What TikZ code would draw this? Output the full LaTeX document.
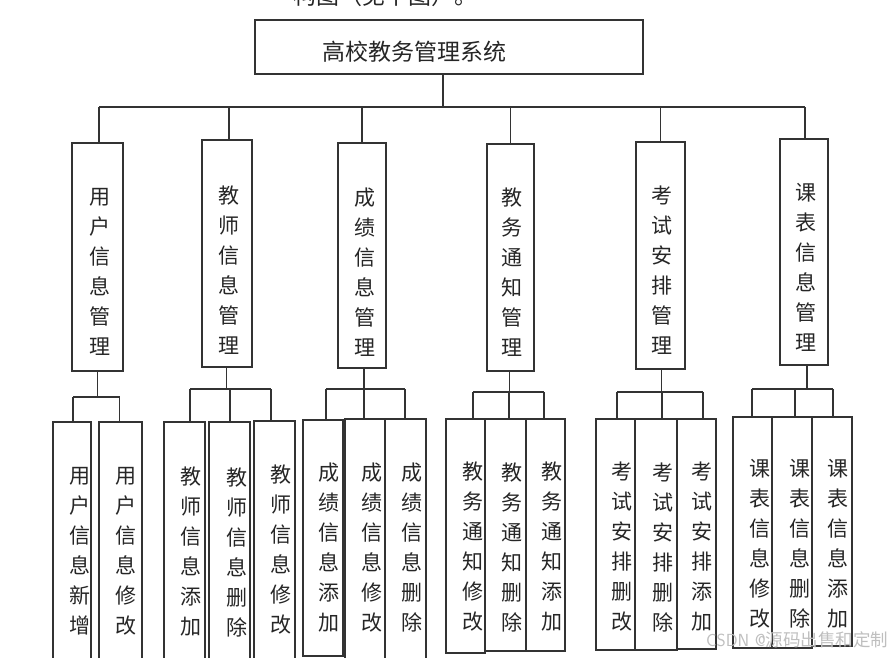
\documentclass[tikz,border=0pt]{standalone}
\usepackage{fontspec}
\newfontfamily\cjk{Noto Sans CJK SC}
\usetikzlibrary{fit}
\tikzset{
  box/.style={draw=black!80, line width=1.1pt, inner sep=0pt, rectangle},
  conn/.style={draw=black!80, line width=1.1pt},
  vt/.style={align=center, inner sep=0pt, font=\cjk\fontsize{21}{30}\selectfont, text=black!85},
  ttl/.style={inner sep=0pt, font=\cjk\fontsize{23}{26}\selectfont, text=black!85},
  wm/.style={inner sep=0pt, font=\fontsize{17.5}{19}\selectfont\sffamily, text=black!25}
}
\begin{document}
\begin{tikzpicture}[x=1pt,y=-1pt]
\clip (0,0) rectangle (892,657);
\fill[white] (0,0) rectangle (892,657);

% cut-off caption at the top
\node[ttl] (cap) at (385,-4) {构图（见下图）。};

% root
\node[box, fit={(255,20) (643,74)}] (root) {};
\node[ttl] (roottxt) at (414,52) {高校教务管理系统};

% level 2
\node[box, fit={(72,143) (123,371)}] (u) {};
\node[box, fit={(202,140) (252,367)}] (t) {};
\node[box, fit={(338,143) (386,368)}] (g) {};
\node[box, fit={(487,144) (534,371)}] (n) {};
\node[box, fit={(636,142) (685,369)}] (e) {};
\node[box, fit={(780,139) (828,365)}] (c) {};

\node[vt] (ut) at (100,272) {用\\户\\信\\息\\管\\理};
\node[vt] (tt) at (229,270) {教\\师\\信\\息\\管\\理};
\node[vt] (gt) at (365,272) {成\\绩\\信\\息\\管\\理};
\node[vt] (nt) at (512,272) {教\\务\\通\\知\\管\\理};
\node[vt] (et) at (662,270) {考\\试\\安\\排\\管\\理};
\node[vt] (ct) at (806,267) {课\\表\\信\\息\\管\\理};

% level 3
\node[box, fit={(53,422) (91,662)}] (u1) {};
\node[box, fit={(99,422) (142,662)}] (u2) {};
\node[box, fit={(164,422) (205,662)}] (t1) {};
\node[box, fit={(209,422) (250,662)}] (t2) {};
\node[box, fit={(254,421) (295,662)}] (t3) {};
\node[box, fit={(303,420) (343,656)}] (g1) {};
\node[box, fit={(345,419) (385,662)}] (g2) {};
\node[box, fit={(385,419) (426,662)}] (g3) {};
\node[box, fit={(446,419) (485,653)}] (n1) {};
\node[box, fit={(485,419) (526,651)}] (n2) {};
\node[box, fit={(526,419) (565,651)}] (n3) {};
\node[box, fit={(596,419) (635,650)}] (e1) {};
\node[box, fit={(635,419) (677,650)}] (e2) {};
\node[box, fit={(677,419) (716,649)}] (e3) {};
\node[box, fit={(733,417) (772,648)}] (c1) {};
\node[box, fit={(772,417) (812,648)}] (c2) {};
\node[box, fit={(812,417) (852,646)}] (c3) {};

\node[vt] (u1t) at (80,551) {用\\户\\信\\息\\新\\增};
\node[vt] (u2t) at (126,551) {用\\户\\信\\息\\修\\改};
\node[vt] (t1t) at (191,552) {教\\师\\信\\息\\添\\加};
\node[vt] (t2t) at (237,552) {教\\师\\信\\息\\删\\除};
\node[vt] (t3t) at (281,550) {教\\师\\信\\息\\修\\改};
\node[vt] (g1t) at (329,548) {成\\绩\\信\\息\\添\\加};
\node[vt] (g2t) at (372,548) {成\\绩\\信\\息\\修\\改};
\node[vt] (g3t) at (412,548) {成\\绩\\信\\息\\删\\除};
\node[vt] (n1t) at (473,547) {教\\务\\通\\知\\修\\改};
\node[vt] (n2t) at (512,547) {教\\务\\通\\知\\删\\除};
\node[vt] (n3t) at (552,547) {教\\务\\通\\知\\添\\加};
\node[vt] (e1t) at (622,547) {考\\试\\安\\排\\删\\改};
\node[vt] (e2t) at (663,547) {考\\试\\安\\排\\删\\除};
\node[vt] (e3t) at (702,547) {考\\试\\安\\排\\添\\加};
\node[vt] (c1t) at (760,544) {课\\表\\信\\息\\修\\改};
\node[vt] (c2t) at (800,544) {课\\表\\信\\息\\删\\除};
\node[vt] (c3t) at (838,544) {课\\表\\信\\息\\添\\加};

% connectors root -> level 2
\coordinate (bus) at (0,107);
\draw[conn] ([xshift=-6pt]root.south) -- ([xshift=-6pt]root.south |- bus);
\draw[conn] ([xshift=1.5pt]u.north |- bus) -- ([xshift=1pt]c.north |- bus);
\foreach \b/\dx in {u/1.5, t/2, g/0, n/0, e/0, c/1}
  \draw[conn] ([xshift=\dx pt]\b.north |- bus) -- ([xshift=\dx pt]\b.north);

% level 2 -> level 3
\foreach \p/\px/\by/\a/\ax/\m/\mx/\z/\zx in {
  u/0/397/u1/1/u1/1/u2/-1,
  t/-0.5/389/t1/5.5/t2/0.5/t3/-3.5,
  g/2/389/g1/3/g2/-1/g3/-0.5,
  n/-1/392/n1/7.5/n2/3.5/n3/-1.5,
  e/1/392/e1/1.5/e2/6/e3/6.5,
  c/3/389/c1/-0.5/c2/3/c3/1}{
  \draw[conn] ([xshift=\px pt]\p.south) -- ([xshift=\px pt]\p.south |- {(0,\by)});
  \draw[conn] ([xshift=\ax pt]\a.north |- {(0,\by)}) -- ([xshift=\zx pt]\z.north |- {(0,\by)});
  \draw[conn] ([xshift=\ax pt]\a.north |- {(0,\by)}) -- ([xshift=\ax pt]\a.north);
  \draw[conn] ([xshift=\mx pt]\m.north |- {(0,\by)}) -- ([xshift=\mx pt]\m.north);
  \draw[conn] ([xshift=\zx pt]\z.north |- {(0,\by)}) -- ([xshift=\zx pt]\z.north);
}

% watermark
\node[wm, anchor=west] (wmk) at (706,640) {CSDN @{\cjk 源码出售和定制}};
\end{tikzpicture}
\end{document}
